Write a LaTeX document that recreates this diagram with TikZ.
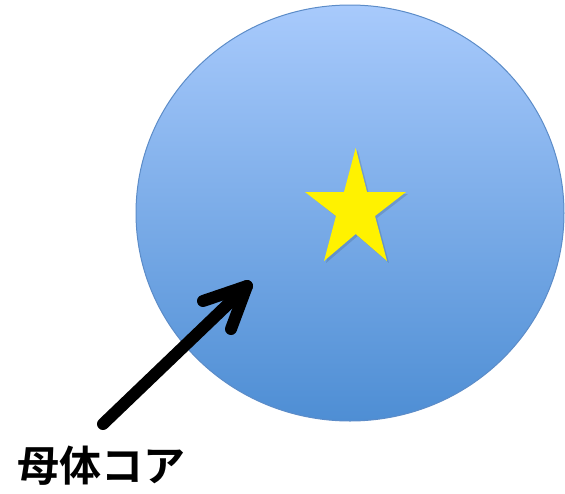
\documentclass[tikz,border=0pt]{standalone}
\usepackage{fontspec}
\newfontfamily\jpfont{Noto Sans CJK JP Bold}
\begin{document}
\begin{tikzpicture}[x=1pt,y=-1pt,
  corefill/.style={top color=coreTop,bottom color=coreBot},
  pointer/.style={line width=12pt,black,line cap=round,line join=round},
  lbl/.style={font=\jpfont\fontsize{42}{42}\selectfont,inner sep=0pt}]
\definecolor{coreTop}{RGB}{168,202,252}
\definecolor{coreBot}{RGB}{78,142,212}
\definecolor{coreEdge}{RGB}{92,140,200}
\useasboundingbox (0,0) rectangle (565,493);
% core
\shade[corefill] (350,213) ellipse [x radius=214, y radius=208];
\draw[coreEdge,line width=1pt] (350,213) ellipse [x radius=214, y radius=208];
% star shadow
\fill[black,opacity=0.12] (357.7,150) -- (346,194) -- (308,194) -- (338,218) -- (326,263) -- (357.7,236) -- (389,263) -- (377,218) -- (408,194) -- (369,194) -- cycle;
% star
\node[coordinate] (starc) at (355.7,210) {};
\fill[yellow] (355.7,148) -- (344,192) -- (305,192) -- (336,216) -- (324,261) -- (355.7,234) -- (387,261) -- (375,216) -- (406,192) -- (367,192) -- cycle;
% label
\node[lbl] (label) at (101,466) {母体コア};
% arrow
\coordinate (tail) at (103,424);
\coordinate (tip) at (247,286);
\coordinate (barbA) at (203,301);
\coordinate (barbB) at (231,329);
\draw[pointer] (tail) -- (tip);
\draw[pointer] (barbA) -- (tip) -- (barbB);
\end{tikzpicture}
\end{document}
